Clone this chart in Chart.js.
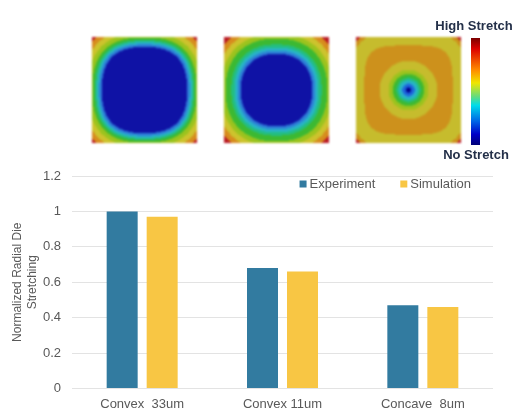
<!DOCTYPE html>
<html>
<head>
<meta charset="utf-8">
<script src="https://cdn.jsdelivr.net/npm/chart.js@4.4.1/dist/chart.umd.min.js"></script>
<style>
html, body { margin: 0; padding: 0; background: #fff; }
#wrap { width: 528px; height: 420px; }
</style>
</head>
<body>
<div id="wrap"><canvas id="stretchChart" width="528" height="420"></canvas></div>
<script>
// Chart data
const categories = ['Convex  33um', 'Convex 11um', 'Concave  8um'];
const experimentData = [1.0, 0.68, 0.47];
const simulationData = [0.97, 0.66, 0.46];
const yTickLabels = ['0', '0.2', '0.4', '0.6', '0.8', '1', '1.2'];
const seriesNames = ['Experiment', 'Simulation'];

const textGray = '#595959';

// jet-like colours used for the stretch maps
const BLUE_D = [15, 18, 165], BLUE_L = [45, 125, 215], CYAN = [40, 180, 200], TEAL = [35, 190, 130];
const GREEN = [60, 185, 50], YGREEN = [155, 195, 30], YELLOW = [205, 195, 45], ORANGE = [215, 140, 30];
const RED = [185, 25, 35], OLIVE = [198, 188, 45], DORANGE = [205, 145, 28];

function pnorm(u, v, p) {
    return Math.pow(Math.pow(Math.abs(u), p) + Math.pow(Math.abs(v), p), 1 / p);
}
function pick(bands, d) {
    for (const b of bands) { if (d < b[0]) return b[1]; }
    return bands[bands.length - 1][1];
}

const mapFields = [
    // convex 33um
    (u, v) => pick([[0.81, BLUE_D], [0.86, BLUE_L], [0.90, CYAN], [0.94, TEAL], [0.99, GREEN],
                    [1.07, YGREEN], [1.16, YELLOW], [1.25, ORANGE], [9, RED]], pnorm(u, v, 2.6)),
    // convex 11um
    (u, v) => pick([[0.68, BLUE_D], [0.74, BLUE_L], [0.80, CYAN], [0.86, TEAL], [0.97, GREEN],
                    [1.06, YGREEN], [1.16, YELLOW], [1.26, ORANGE], [9, RED]], pnorm(u, v, 2.3)),
    // concave 8um
    (u, v) => {
        const dc = Math.hypot(u, v);
        const ds = pnorm(u, v, 4);
        if (dc > 1.36) return RED;
        if (dc > 1.28) return DORANGE;
        if (dc < 0.38) {
            return pick([[0.05, [0, 0, 140]], [0.12, [30, 100, 220]], [0.18, CYAN], [0.23, TEAL],
                         [0.30, GREEN], [0.38, YGREEN]], dc);
        }
        if (dc < 0.55) return OLIVE;
        if (ds < 0.84) return DORANGE;
        return OLIVE;
    }
];

// render each map to an offscreen canvas once
const mapSize = 105;
const mapCanvases = mapFields.map(field => {
    const c = document.createElement('canvas');
    c.width = mapSize; c.height = mapSize;
    const g = c.getContext('2d');
    const img = g.createImageData(mapSize, mapSize);
    for (let y = 0; y < mapSize; y++) {
        for (let x = 0; x < mapSize; x++) {
            const u = (x + 0.5) / mapSize * 2 - 1;
            const v = (y + 0.5) / mapSize * 2 - 1;
            const col = field(u, v);
            const k = (y * mapSize + x) * 4;
            img.data[k] = col[0]; img.data[k + 1] = col[1]; img.data[k + 2] = col[2]; img.data[k + 3] = 255;
        }
    }
    g.putImageData(img, 0, 0);
    return c;
});

// draws the three stretch maps and the colour bar above the bar chart
const stretchMaps = {
    id: 'stretchMaps',
    afterDraw(chart) {
        const ctx = chart.ctx;
        ctx.save();
        const lefts = [92, 224, 356];
        ctx.filter = 'blur(0.8px)';
        lefts.forEach((x, i) => ctx.drawImage(mapCanvases[i], x, 37, mapSize, 106));
        ctx.filter = 'none';

        const grad = ctx.createLinearGradient(0, 38, 0, 145);
        grad.addColorStop(0, '#7a0000');
        grad.addColorStop(0.1, '#dc0000');
        grad.addColorStop(0.3, '#ff8c00');
        grad.addColorStop(0.42, '#f0e600');
        grad.addColorStop(0.55, '#60dc80');
        grad.addColorStop(0.63, '#00dcea');
        grad.addColorStop(0.78, '#0064e6');
        grad.addColorStop(0.9, '#0000c8');
        grad.addColorStop(1, '#000078');
        ctx.fillStyle = grad;
        ctx.fillRect(471, 38, 9, 107);

        ctx.fillStyle = '#243049';
        ctx.font = 'bold 13px "Liberation Sans", Arial, sans-serif';
        ctx.textAlign = 'center';
        ctx.textBaseline = 'middle';
        ctx.fillText('High Stretch', 474, 26);
        ctx.fillText('No Stretch', 476, 155);
        ctx.restore();
    }
};

// legend inside the plot, right aligned
const insideLegend = {
    id: 'insideLegend',
    afterDraw(chart) {
        const ctx = chart.ctx;
        ctx.save();
        ctx.font = '13px "Liberation Sans", Arial, sans-serif';
        ctx.textBaseline = 'middle';
        ctx.textAlign = 'left';
        const box = 7, gap = 3, spacing = 25;
        const sets = chart.data.datasets;
        let total = 0;
        sets.forEach((ds, i) => { total += box + gap + ctx.measureText(ds.label).width + (i ? spacing : 0); });
        let x = chart.chartArea.right - 22 - total;
        const y = chart.chartArea.top + 8;
        sets.forEach(ds => {
            ctx.fillStyle = ds.backgroundColor;
            ctx.fillRect(x, y - box / 2, box, box);
            x += box + gap;
            ctx.fillStyle = textGray;
            ctx.fillText(ds.label, x, y);
            x += ctx.measureText(ds.label).width + spacing;
        });
        ctx.restore();
    }
};

const ctx = document.getElementById('stretchChart').getContext('2d');
const stretchChart = new Chart(ctx, {
    type: 'bar',
    data: {
        labels: categories,
        datasets: [{
            label: seriesNames[0],
            data: experimentData,
            backgroundColor: '#327ba0'
        }, {
            label: seriesNames[1],
            data: simulationData,
            backgroundColor: '#f8c644'
        }]
    },
    options: {
        responsive: false,
        animation: false,
        layout: { padding: { top: 176, left: 10, right: 35, bottom: 0 } },
        categoryPercentage: 0.57,
        barPercentage: 0.775,
        plugins: {
            legend: { display: false },
            tooltip: { enabled: false }
        },
        scales: {
            x: {
                grid: { display: false, drawTicks: false },
                border: { display: false },
                ticks: {
                    color: textGray,
                    padding: 8,
                    maxRotation: 0,
                    font: { family: '"Liberation Sans", Arial, sans-serif', size: 13 }
                }
            },
            y: {
                min: 0,
                max: 1.2,
                afterFit: (scale) => { scale.width = 62; },
                grid: { color: '#e3e3e3', drawTicks: false },
                border: { display: false },
                ticks: {
                    stepSize: 0.2,
                    color: textGray,
                    padding: 11,
                    font: { family: '"Liberation Sans", Arial, sans-serif', size: 13 },
                    callback: (value, index) => yTickLabels[index]
                },
                title: {
                    display: true,
                    text: ['Normalized Radial Die', 'Stretching'],
                    color: textGray,
                    padding: { top: 0, bottom: 2 },
                    font: { family: '"Liberation Sans", Arial, sans-serif', size: 12, lineHeight: 1.25 }
                }
            }
        }
    },
    plugins: [stretchMaps, insideLegend]
});
</script>
</body>
</html>
